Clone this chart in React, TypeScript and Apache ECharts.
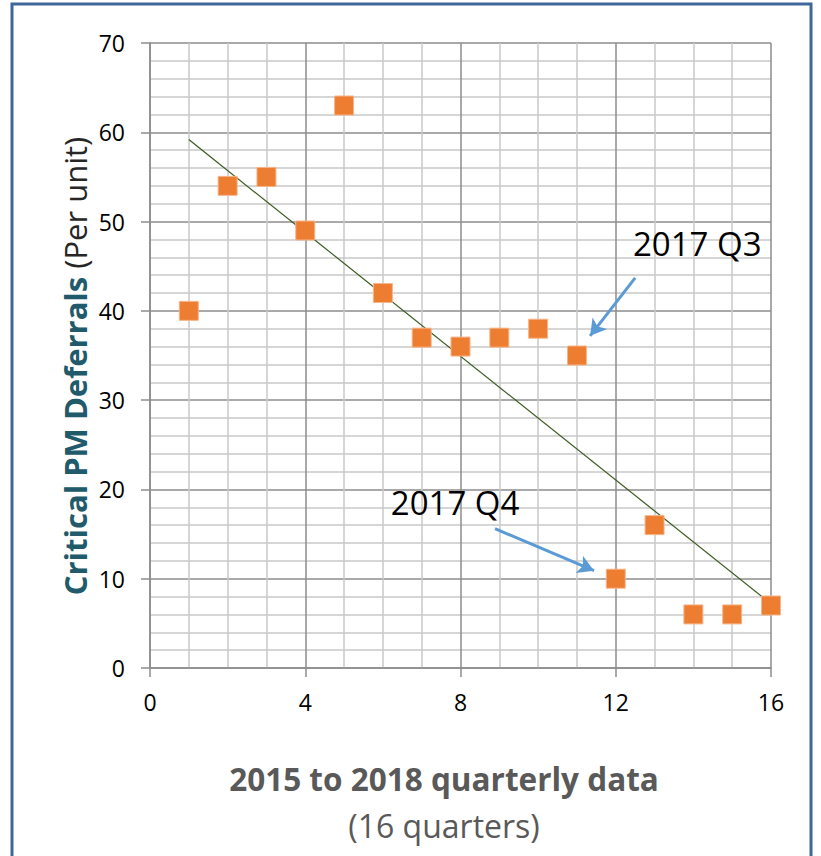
import React, { useEffect, useRef } from "react";
import * as echarts from "echarts";

const quarters = [1, 2, 3, 4, 5, 6, 7, 8, 9, 10, 11, 12, 13, 14, 15, 16];
const deferrals = [40, 54, 55, 49, 63, 42, 37, 36, 37, 38, 35, 10, 16, 6, 6, 7];
const xTicks = [0, 4, 8, 12, 16];
const yTicks = [0, 10, 20, 30, 40, 50, 60, 70];
const annotations = [
  { label: "2017 Q3", text: [14.1, 47.5], from: [12.5, 43.7], to: [11.34, 37.2] },
  { label: "2017 Q4", text: [7.86, 18.5], from: [8.89, 15.6], to: [11.44, 10.9] },
];

function regression(xs: number[], ys: number[]) {
  const n = xs.length;
  const mx = xs.reduce((a, b) => a + b, 0) / n;
  const my = ys.reduce((a, b) => a + b, 0) / n;
  let sxy = 0, sxx = 0;
  for (let i = 0; i < n; i++) {
    sxy += (xs[i] - mx) * (ys[i] - my);
    sxx += (xs[i] - mx) * (xs[i] - mx);
  }
  const slope = sxy / sxx;
  return { slope, intercept: my - slope * mx };
}

export default function App() {
  const ref = useRef<HTMLDivElement>(null);
  useEffect(() => {
    if (!ref.current) return;
    const chart = echarts.init(ref.current, undefined, { renderer: "svg" });
    const { slope, intercept } = regression(quarters, deferrals);
    const x0 = quarters[0];
    const x1 = quarters[quarters.length - 1];
    const font = "'Open Sans', sans-serif";
    const major = "#8c8c8c";
    const minor = "#c9c9c9";
    chart.setOption({
      animation: false,
      backgroundColor: "#ffffff",
      textStyle: { fontFamily: font },
      grid: { left: 150, right: 50, top: 43, bottom: 188, containLabel: false },
      xAxis: {
        type: "value",
        min: xTicks[0],
        max: xTicks[xTicks.length - 1],
        interval: 4,
        axisLine: { show: true, onZero: false, lineStyle: { color: major, width: 1.5 } },
        axisTick: { show: true, length: 9, lineStyle: { color: major, width: 1.5 } },
        axisLabel: { fontSize: 23, color: "#000", margin: 22, fontFamily: font },
        splitLine: { show: true, lineStyle: { color: major, width: 1.5 } },
        minorTick: { show: false, splitNumber: 4 },
        minorSplitLine: { show: true, lineStyle: { color: minor, width: 1.5 } },
      },
      yAxis: {
        type: "value",
        min: yTicks[0],
        max: yTicks[yTicks.length - 1],
        interval: 10,
        axisLine: { show: true, onZero: false, lineStyle: { color: major, width: 1.5 } },
        axisTick: { show: true, length: 9, lineStyle: { color: major, width: 1.5 } },
        axisLabel: { fontSize: 23, color: "#000", margin: 25, fontFamily: font },
        splitLine: { show: true, lineStyle: { color: major, width: 1.5 } },
        minorTick: { show: false, splitNumber: 5 },
        minorSplitLine: { show: true, lineStyle: { color: minor, width: 1.5 } },
      },
      series: [
        {
          type: "line",
          data: [
            [x0, intercept + slope * x0],
            [x1, intercept + slope * x1],
          ],
          showSymbol: false,
          symbol: "none",
          lineStyle: { color: "#3c5a22", width: 1.2 },
          z: 3,
          markLine: {
            silent: true,
            symbol: ["none", "arrow"],
            symbolSize: [14, 16],
            lineStyle: { color: "#5b9bd5", width: 3, type: "solid" },
            label: { show: false },
            data: annotations.map((a) => [{ coord: a.from }, { coord: a.to }]),
          },
          markPoint: {
            silent: true,
            symbol: "circle",
            symbolSize: 0,
            label: {
              show: true,
              position: "inside",
              fontSize: 33,
              color: "#000",
              fontFamily: font,
              formatter: (p: any) => p.name,
            },
            data: annotations.map((a) => ({ name: a.label, coord: a.text })),
          },
        },
        {
          type: "scatter",
          data: quarters.map((q, i) => [q, deferrals[i]]),
          symbol: "rect",
          symbolSize: 19,
          itemStyle: { color: "#ed7d31", borderColor: "#f6b58a", borderWidth: 1, opacity: 1 },
          z: 4,
        },
      ],
      graphic: [
        {
          type: "polyline",
          shape: { points: [[12, 870], [12, 4], [811, 4], [811, 870]] },
          style: { stroke: "#3f6699", lineWidth: 3, fill: "none" },
          silent: true,
        },
        {
          type: "text",
          x: 75,
          y: 366,
          rotation: Math.PI / 2,
          style: {
            text: "{b|Critical PM Deferrals}{n| (Per unit)}",
            align: "center",
            verticalAlign: "middle",
            rich: {
              b: { fontSize: 31, fontWeight: "bold", fill: "#215a6b", fontFamily: font },
              n: { fontSize: 31, fill: "#262626", fontFamily: font },
            },
          },
        },
        {
          type: "text",
          x: 444,
          y: 778,
          style: {
            text: "2015 to 2018 quarterly data",
            align: "center",
            verticalAlign: "middle",
            fontSize: 31.5,
            fontWeight: "bold",
            fill: "#595959",
            fontFamily: font,
          },
        },
        {
          type: "text",
          x: 444,
          y: 825,
          style: {
            text: "(16 quarters)",
            align: "center",
            verticalAlign: "middle",
            fontSize: 32,
            fill: "#595959",
            fontFamily: font,
          },
        },
      ],
    });
    return () => chart.dispose();
  }, []);
  return (
    <div
      ref={ref}
      style={{ position: "absolute", left: 0, top: 0, width: 821, height: 856 }}
    />
  );
}
